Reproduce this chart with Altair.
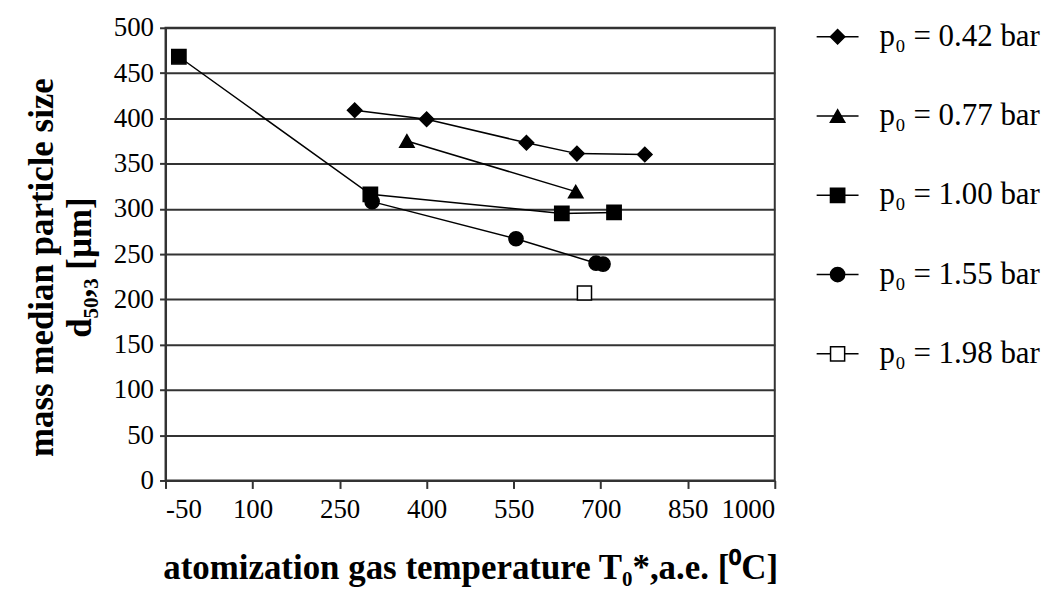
import altair as alt
import pandas as pd

labels = ["p₀ = 0.42 bar", "p₀ = 0.77 bar", "p₀ = 1.00 bar", "p₀ = 1.55 bar", "p₀ = 1.98 bar"]

temp_042 = [276, 400, 572, 659, 776]
size_042 = [409, 399, 373, 361, 360]
temp_077 = [366, 657]
size_077 = [375, 319]
temp_100 = [-27, 303, 633, 723]
size_100 = [468, 316, 295, 296]
temp_155 = [306, 554, 692, 704]
size_155 = [308, 267, 240, 239]
temp_198 = [672]
size_198 = [207]

x_ticks = [-50, 100, 250, 400, 550, 700, 850, 1000]
y_ticks = [0, 50, 100, 150, 200, 250, 300, 350, 400, 450, 500]

shapes = ["diamond", "triangle-up", "square", "circle", "square"]
fills = ["black", "black", "black", "black", "white"]
sizes = [210, 200, 225, 225, 225]

rows = []
for lab, xs, ys in zip(labels,
                       [temp_042, temp_077, temp_100, temp_155, temp_198],
                       [size_042, size_077, size_100, size_155, size_198]):
    for i, (a, b) in enumerate(zip(xs, ys)):
        rows.append({"series": lab, "T": a, "d": b, "i": i})
df = pd.DataFrame(rows)

FONT = "Liberation Serif"
LINE = "#333333"

xenc = alt.X("T:Q",
             scale=alt.Scale(domain=[-50, 1000], nice=False, zero=False),
             axis=alt.Axis(values=x_ticks, grid=False, labelExpr="'' + datum.value",
                           title="atomization gas temperature T₀*,a.e. [⁰C]",
                           titleFont=FONT, titleFontSize=35, titleFontWeight="bold",
                           titleColor="black", titlePadding=28,
                           labelFont=FONT, labelFontSize=27, labelColor="black",
                           labelPadding=8, tickSize=8, tickColor=LINE, tickWidth=2,
                           domainColor=LINE, domainWidth=2))
yenc = alt.Y("d:Q",
             scale=alt.Scale(domain=[0, 500], nice=False),
             axis=alt.Axis(values=y_ticks, grid=True, gridColor=LINE, gridWidth=2,
                           gridOpacity=1,
                           title=["mass median particle size", "d₅₀,₃ [µm]"],
                           titleFont=FONT, titleFontSize=35, titleFontWeight="bold",
                           titleColor="black", titlePadding=16, titleLineHeight=38,
                           titleY=240,
                           labelFont=FONT, labelFontSize=27, labelColor="black",
                           labelPadding=6, tickSize=6, tickColor=LINE, tickWidth=2,
                           domainColor=LINE, domainWidth=2))

shape_scale = alt.Scale(domain=labels, range=shapes)
fill_scale = alt.Scale(domain=labels, range=fills)
size_scale = alt.Scale(domain=labels, range=sizes)

base = alt.Chart(df)
lines = base.mark_line(color="black", strokeWidth=1.5).encode(
    x=xenc, y=yenc, detail="series:N", order="T:Q")
points = base.mark_point(filled=True, opacity=1, stroke="black", strokeWidth=1.5).encode(
    x=xenc, y=yenc,
    shape=alt.Shape("series:N", scale=shape_scale, legend=None),
    fill=alt.Fill("series:N", scale=fill_scale, legend=None),
    size=alt.Size("series:N", scale=size_scale, legend=None))

main = alt.layer(lines, points).properties(
    width=611, height=454,
    view=alt.ViewBackground(stroke=LINE, strokeWidth=2))

leg_df = pd.DataFrame({"label": labels})
ly = alt.Y("label:N", sort=labels, axis=None,
           scale=alt.Scale(type="point", range=[9, 327], padding=0))
lbase = alt.Chart(leg_df)
lrule = lbase.mark_rule(color="black", strokeWidth=1.5).encode(
    x=alt.value(0), x2=alt.value(42), y=ly)
lpts = lbase.mark_point(filled=True, opacity=1, stroke="black", strokeWidth=1.5).encode(
    x=alt.value(21), y=ly,
    shape=alt.Shape("label:N", scale=shape_scale, legend=None),
    fill=alt.Fill("label:N", scale=fill_scale, legend=None),
    size=alt.Size("label:N", scale=size_scale, legend=None))
ltext = lbase.mark_text(align="left", baseline="middle", font=FONT, fontSize=31,
                        color="black").encode(
    x=alt.value(63), y=ly, text="label:N")
legend = alt.layer(lrule, lpts, ltext).properties(
    width=180, height=454, view=alt.ViewBackground(stroke=None))

chart = alt.hconcat(main, legend, spacing=36).properties(
    padding={"left": 23, "top": 12, "right": 5, "bottom": 5},
    background="white")

chart.save("out.html", embed_options={"renderer": "svg", "actions": False})
